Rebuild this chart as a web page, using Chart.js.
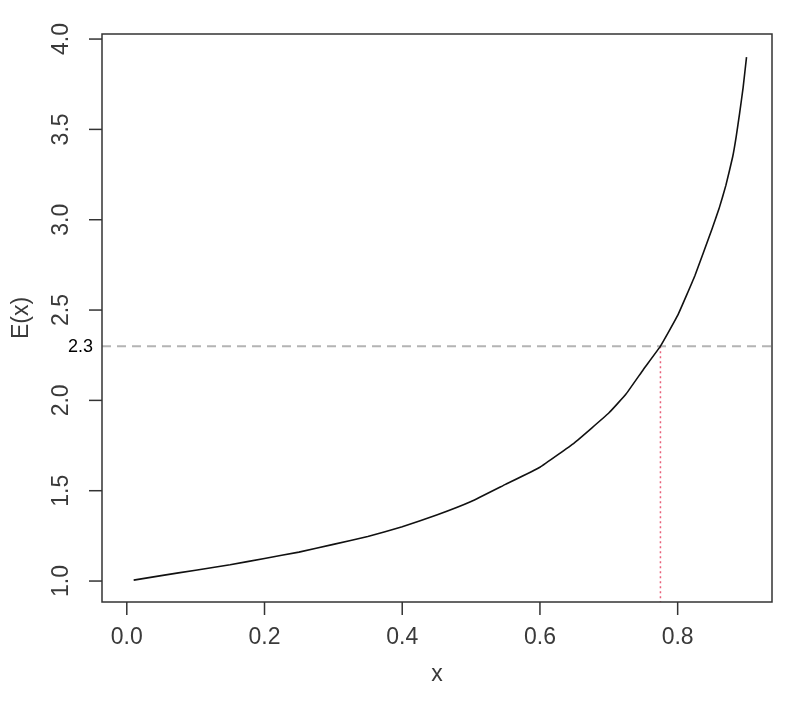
<!DOCTYPE html>
<html>
<head>
<meta charset="utf-8">
<script src="https://cdn.jsdelivr.net/npm/chart.js@4"></script>
<style>
  html, body { margin: 0; padding: 0; background: #fff; }
  #wrap { width: 800px; height: 703px; }
</style>
</head>
<body>
<div id="wrap"><canvas id="my-chart" width="800" height="703"></canvas></div>
<script>
// * E(x) curve

const xValues = [0.01, 0.05, 0.10, 0.15, 0.20, 0.25, 0.30, 0.35, 0.40, 0.45, 0.50, 0.55,
    0.60, 0.65, 0.70, 0.725, 0.75, 0.775, 0.80, 0.825, 0.85, 0.86, 0.87, 0.88, 0.885,
    0.89, 0.895, 0.90]
const eValues = [1.005, 1.03, 1.06, 1.09, 1.125, 1.16, 1.203, 1.247, 1.30, 1.365, 1.44, 1.535,
    1.63, 1.765, 1.93, 2.035, 2.17, 2.30, 2.47, 2.69, 2.95, 3.06, 3.19, 3.35, 3.46,
    3.59, 3.73, 3.90]

const xTicks = [0.0, 0.2, 0.4, 0.6, 0.8]
const yTicks = [1.0, 1.5, 2.0, 2.5, 3.0, 3.5, 4.0]

// reference level and where the curve crosses it
const refLevel = 2.3
const refX = 0.775

const xMin = -0.036
const xMax = 0.937
const yMin = 0.884
const yMax = 4.028

const axisColor = '#333'
const font = '"Liberation Sans", Arial, sans-serif'

const curve = xValues.map((x, i) => ({ x: x, y: eValues[i] }))

// box, ticks and labels drawn in R style from the chart's own scales
const rAxes = {
    id: 'rAxes',
    afterDraw(chart) {
        const { ctx, chartArea } = chart
        const xs = chart.scales.x
        const ys = chart.scales.y
        ctx.save()
        ctx.strokeStyle = axisColor
        ctx.lineWidth = 1.5
        ctx.strokeRect(chartArea.left, chartArea.top,
            chartArea.right - chartArea.left, chartArea.bottom - chartArea.top)

        ctx.fillStyle = '#3a3a3a'
        ctx.font = '23px ' + font
        ctx.textAlign = 'center'
        ctx.textBaseline = 'middle'

        xTicks.forEach((v) => {
            const px = xs.getPixelForValue(v)
            ctx.beginPath()
            ctx.moveTo(px, chartArea.bottom)
            ctx.lineTo(px, chartArea.bottom + 13)
            ctx.stroke()
            ctx.fillText(v.toFixed(1), px, 638)
        })

        yTicks.forEach((v) => {
            const py = ys.getPixelForValue(v)
            ctx.beginPath()
            ctx.moveTo(chartArea.left, py)
            ctx.lineTo(chartArea.left - 13, py)
            ctx.stroke()
            ctx.save()
            ctx.translate(62, py)
            ctx.rotate(-Math.PI / 2)
            ctx.fillText(v.toFixed(1), 0, 0)
            ctx.restore()
        })

        // axis titles
        const midX = (chartArea.left + chartArea.right) / 2
        const midY = (chartArea.top + chartArea.bottom) / 2
        ctx.fillText('x', midX, 675)
        ctx.save()
        ctx.translate(22, midY)
        ctx.rotate(-Math.PI / 2)
        ctx.fillText('E(x)', 0, 0)
        ctx.restore()

        // label for the reference level
        ctx.fillStyle = '#000'
        ctx.font = '18px ' + font
        ctx.textAlign = 'right'
        ctx.fillText(String(refLevel), 93, ys.getPixelForValue(refLevel) + 1)
        ctx.restore()
    }
}

new Chart(document.getElementById('my-chart'), {
    type: 'scatter',
    data: {
        datasets: [
            {
                label: 'E(x)',
                data: curve,
                showLine: true,
                borderColor: '#111',
                borderWidth: 1.6,
                pointRadius: 0,
                tension: 0.1,
                order: 1
            },
            {
                label: 'level',
                data: [{ x: xMin, y: refLevel }, { x: xMax, y: refLevel }],
                showLine: true,
                borderColor: '#b4b4b4',
                borderWidth: 2,
                borderDash: [9, 6],
                pointRadius: 0,
                order: 2
            },
            {
                label: 'crossing',
                data: [{ x: refX, y: refLevel }, { x: refX, y: yMin }],
                showLine: true,
                borderColor: '#e8607a',
                borderWidth: 1.5,
                borderDash: [2, 3],
                pointRadius: 0,
                order: 3
            }
        ]
    },
    options: {
        responsive: false,
        animation: false,
        layout: { padding: { left: 102, top: 34, right: 28, bottom: 101 } },
        plugins: {
            legend: { display: false },
            tooltip: { enabled: false }
        },
        scales: {
            x: { type: 'linear', min: xMin, max: xMax, display: false },
            y: { type: 'linear', min: yMin, max: yMax, display: false }
        }
    },
    plugins: [rAxes]
})
</script>
</body>
</html>
